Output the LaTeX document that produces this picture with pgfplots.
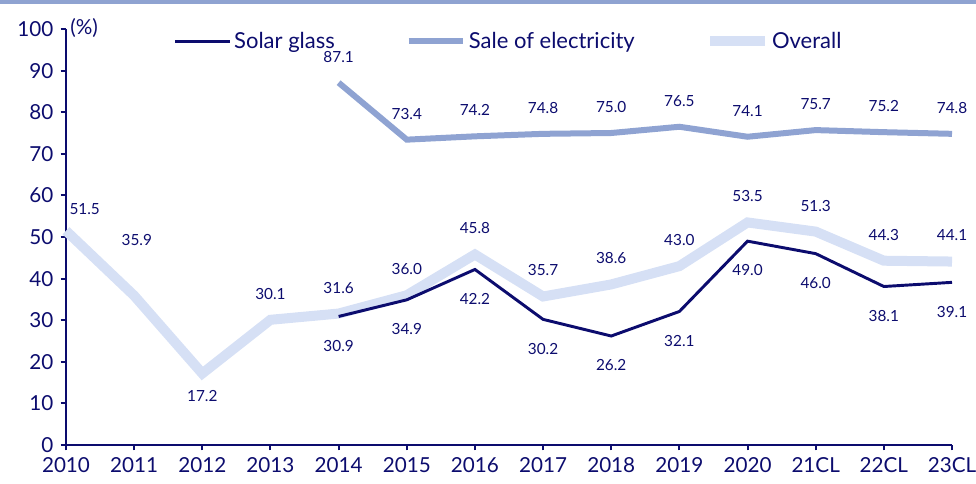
\documentclass[border=0pt]{standalone}
\usepackage{fontspec}
\setmainfont{Lato}
\usepackage{pgfplots}
\pgfplotsset{compat=1.18}
\definecolor{navy}{RGB}{12,12,110}
\definecolor{sale}{RGB}{143,163,210}
\definecolor{overall}{RGB}{214,224,245}
\definecolor{band}{RGB}{143,163,209}
\begin{document}
\begin{tikzpicture}
\begin{axis}[
  name=ax,
  scale only axis,
  width=664.5pt, height=312pt,
  xmin=0, xmax=13, ymin=0, ymax=100,
  clip=false,
  axis lines=left,
  axis line style={navy, line width=2pt, -},
  xtick={0,...,13},
  xticklabels={2010,2011,2012,2013,2014,2015,2016,2017,2018,2019,2020,21CL,22CL,23CL},
  ytick={0,10,...,100},
  tick align=outside,
  major tick length=4pt,
  tick style={navy, line width=1.5pt},
  tick label style={font=\fontsize{15.5}{18}\selectfont, text=navy},
  /pgf/number format/assume math mode=true,
  xticklabel style={yshift=-2pt},
  yticklabel style={xshift=-2pt},
  every node near coord/.append style={font=\fontsize{11.5}{14}\selectfont, text=navy, anchor=center},
  nodes near coords={\pgfmathprintnumber[fixed,fixed zerofill,precision=1]{\pgfplotspointmeta}},
  legend columns=3,
  legend style={draw=none, fill=none, at={(0.5,1)}, anchor=north, yshift=2pt,
    font=\fontsize{16.5}{19}\selectfont, text=navy,
    /tikz/every even column/.append style={column sep=51pt},
    nodes={inner xsep=2pt}},
  legend image code/.code={\draw[#1] (0pt,0pt) -- (41pt,0pt);},
]
% legend entries
\addlegendimage{navy, line width=2.2pt}
\addlegendentry{Solar glass}
\addlegendimage{sale, line width=4.5pt}
\addlegendentry{Sale of electricity}
\addlegendimage{overall, line width=7pt}
\addlegendentry{Overall}

% Overall
\addplot[overall, line width=7.5pt, forget plot, nodes near coords={}] coordinates {
(0,51.5)(1,35.9)(2,17.2)(3,30.1)(4,31.6)(5,36.0)(6,45.8)(7,35.7)(8,38.6)(9,43.0)(10,53.5)(11,51.3)(12,44.3)(13,44.1)};
% Solar glass
\addplot[navy, line width=2.2pt, forget plot, nodes near coords={}] coordinates {
(4,30.9)(5,34.9)(6,42.2)(7,30.2)(8,26.2)(9,32.1)(10,49.0)(11,46.0)(12,38.1)(13,39.1)};
% Sale of electricity
\addplot[sale, line width=4.5pt, forget plot, nodes near coords={}] coordinates {
(4,87.1)(5,73.4)(6,74.2)(7,74.8)(8,75.0)(9,76.5)(10,74.1)(11,75.7)(12,75.2)(13,74.8)};

% labels: overall above
\addplot[draw=none, forget plot, every node near coord/.append style={yshift=19.5pt}] coordinates {
(3,30.1)(4,31.6)(5,36.0)(6,45.8)(7,35.7)(8,38.6)(9,43.0)(10,53.5)(11,51.3)(12,44.3)(13,44.1)};
\addplot[draw=none, forget plot, every node near coord/.append style={yshift=42pt, xshift=2pt}] coordinates {(1,35.9)};
\addplot[draw=none, forget plot, every node near coord/.append style={yshift=16pt, xshift=14pt}] coordinates {(0,51.5)};
\addplot[draw=none, forget plot, every node near coord/.append style={yshift=-17pt}] coordinates {(2,17.2)};
% solar glass below
\addplot[draw=none, forget plot, every node near coord/.append style={yshift=-22pt}] coordinates {
(4,30.9)(5,34.9)(6,42.2)(7,30.2)(8,26.2)(9,32.1)(10,49.0)(11,46.0)(12,38.1)(13,39.1)};
% sale above
\addplot[draw=none, forget plot, every node near coord/.append style={yshift=19.5pt}] coordinates {
(4,87.1)(5,73.4)(6,74.2)(7,74.8)(8,75.0)(9,76.5)(10,74.1)(11,75.7)(12,75.2)(13,74.8)};

\node[anchor=west, text=navy, font=\fontsize{15.5}{18}\selectfont, inner sep=0pt] at ([xshift=3pt,yshift=1pt]rel axis cs:0,1) {(\%)};
\end{axis}
\pgfresetboundingbox
\useasboundingbox ([xshift=-49.5pt,yshift=-28.5pt]ax.south west) rectangle ([xshift=18pt,yshift=21.75pt]ax.north east);
\fill[band] ([xshift=-49.5pt,yshift=21.75pt]ax.north west) rectangle ([xshift=18pt,yshift=18.75pt]ax.north east);
\end{tikzpicture}
\end{document}
